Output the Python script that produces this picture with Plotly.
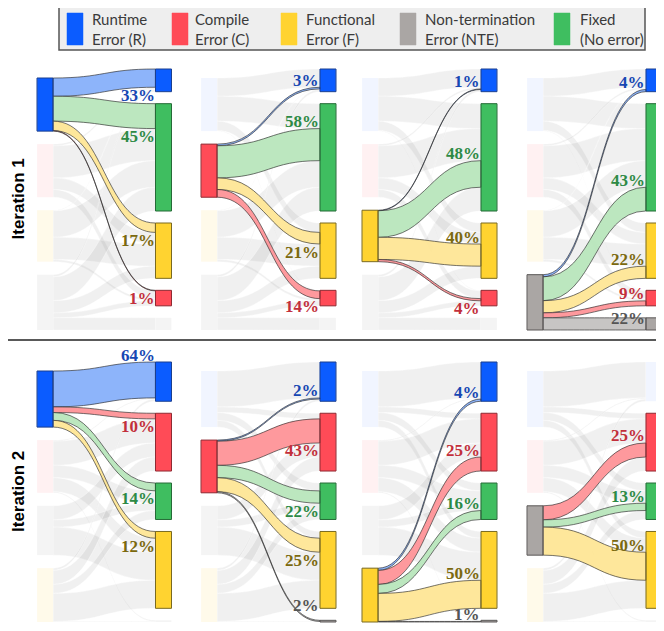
import plotly.graph_objects as go

W, H = 664, 631
OFF = 8  # page body margin: screen px -> figure px


def fx(x):
    return (x - OFF) / W


def fy(y):
    return 1 - (y - OFF) / H


# ---------------- data ----------------
legend_keys = ["R", "C", "F", "NTE", "Fixed"]
legend_labels = ["Runtime<br>Error (R)", "Compile<br>Error (C)", "Functional<br>Error (F)",
                 "Non-termination<br>Error (NTE)", "Fixed<br>(No error)"]
row_titles = ["Iteration 1", "Iteration 2"]
panel_sources = ["R", "C", "F", "NTE"]          # highlighted source in each column

iter1_source_order = ["R", "C", "F", "NTE"]
iter1_target_order = ["R", "Fixed", "F", "C", "NTE"]
iter1_from_R = [33, 45, 17, 1, 0]
iter1_from_C = [3, 58, 21, 14, 0]
iter1_from_F = [1, 48, 40, 4, 0]
iter1_from_NTE = [4, 43, 22, 9, 22]

iter2_source_order = ["R", "C", "NTE", "F"]
iter2_target_order = ["R", "C", "Fixed", "F", "NTE"]
iter2_from_R = [64, 10, 14, 12, 0]
iter2_from_C = [2, 43, 22, 25, 2]
iter2_from_NTE = [0, 25, 13, 50, 0]
iter2_from_F = [4, 25, 16, 50, 1]

rows = [
    (iter1_source_order, iter1_target_order,
     {"R": iter1_from_R, "C": iter1_from_C, "F": iter1_from_F, "NTE": iter1_from_NTE}),
    (iter2_source_order, iter2_target_order,
     {"R": iter2_from_R, "C": iter2_from_C, "NTE": iter2_from_NTE, "F": iter2_from_F}),
]

# label placement (style), per target order:
# 'a' above band end, 'A' further above, 'b' below band end, 't' on band top edge
label_side = [
    {"R": "bbbbb", "C": "aabbb", "F": "aaabb", "NTE": "aaaat"},
    {"R": "abbbb", "C": "abbbA", "F": "aaaaa", "NTE": "aaaaa"},
]

# ---------------- style ----------------
node_color = {"R": "#0b5cff", "C": "#ff4b57", "F": "#ffd330", "NTE": "#aaa6a4", "Fixed": "#3fbe60"}
node_faded = {"R": "#f1f5ff", "C": "#fff1f2", "F": "#fffaea", "NTE": "#f4f4f4", "Fixed": "#eef9f0"}
node_edge = {"R": "#1b3f8f", "C": "#8f2a32", "F": "#7a6a20", "NTE": "#5a5756", "Fixed": "#256b37"}
link_color = {"R": "rgba(135,176,250,0.95)", "C": "rgba(254,148,152,0.95)", "F": "rgba(254,230,150,0.95)",
              "NTE": "rgba(196,194,193,0.95)", "Fixed": "rgba(184,230,188,0.95)"}
label_color = {"R": "#1747b3", "C": "#c22f3b", "F": "#7b690f", "NTE": "#555555", "Fixed": "#2d8a45"}
faded_link = "rgba(120,120,120,0.11)"

col_left_cx = [45, 209, 370, 535]
col_right_cx = [163.5, 328, 489, 654]
row_top = [69, 362]
row_bot = [330, 622]
pad = 12
left_gap = 13
thickness = 16

fig = go.Figure()
annotations = []
shapes = []
outline_shapes = []

for r, (src_order, tgt_order, flows) in enumerate(rows):
    top, bot = row_top[r], row_bot[r]
    Hp = bot - top
    out_sum = [sum(flows[s]) for s in src_order]
    in_sum = [sum(flows[s][j] for s in src_order) for j in range(len(tgt_order))]
    ky = min((Hp - (len(tgt_order) - 1) * pad) / sum(in_sum),
             (Hp - (len(src_order) - 1) * pad) / sum(out_sum))
    tgt_top = []
    y = 0
    for v in in_sum:
        tgt_top.append(y)
        y += v * ky + pad
    src_top = [0] * len(src_order)
    y = Hp
    for i in reversed(range(len(src_order))):
        h = out_sum[i] * ky
        src_top[i] = y - h
        y -= h + left_gap

    for c, hl in enumerate(panel_sources):
        lx, rx = col_left_cx[c], col_right_cx[c]
        dom = dict(x=[fx(lx), fx(rx)], y=[fy(bot), fy(top)])
        ns, nt = len(src_order), len(tgt_order)
        hi = src_order.index(hl)

        # ---- base trace: every node and every flow ----
        xs = [0.001] * ns + [0.999] * nt
        ys = [(src_top[i] + out_sum[i] * ky / 2) / Hp for i in range(ns)] + \
             [(tgt_top[j] + in_sum[j] * ky / 2) / Hp for j in range(nt)]
        colors = [node_color[s] if s == hl else node_faded[s] for s in src_order] + \
                 [node_color[t] if flows[hl][j] > 0 else node_faded[t] for j, t in enumerate(tgt_order)]
        L_s, L_t, L_v, L_c = [], [], [], []
        for i, s in enumerate(src_order):
            for j, v in enumerate(flows[s]):
                if v <= 0:
                    continue
                L_s.append(i)
                L_t.append(ns + j)
                L_v.append(v)
                L_c.append("rgba(0,0,0,0)" if s == hl else faded_link)
        fig.add_trace(go.Sankey(
            domain=dom, arrangement="fixed", hoverinfo="skip",
            node=dict(label=[""] * (ns + nt), x=xs, y=ys, pad=pad, thickness=thickness,
                      color=colors, line=dict(color="rgba(0,0,0,0)", width=0), hoverinfo="skip"),
            link=dict(source=L_s, target=L_t, value=L_v, color=L_c,
                      line=dict(color="rgba(255,255,255,0.7)", width=0.5), hoverinfo="skip"),
        ))

        # ---- highlight trace: flows of the highlighted source, outlined ----
        # an off-canvas balancing flow keeps the same value->pixel scale as the base trace
        S = out_sum[hi]
        hj = [j for j in range(nt) if flows[hl][j] > 0]
        balance = Hp / ky - S
        bx, by, bs, bt, bv, bc = [0.001], [(src_top[hi] + S * ky / 2) / Hp], [], [], [], []
        for k, j in enumerate(hj):
            before = sum(flows[src_order[q]][j] for q in range(hi))
            b_top = tgt_top[j] + before * ky
            bx.append(0.999)
            by.append((b_top + flows[hl][j] * ky / 2) / Hp)
            bs.append(0)
            bt.append(k + 1)
            bv.append(flows[hl][j])
            bc.append(link_color[tgt_order[j]])
        nb = len(bx)
        bx += [0.001, 0.999]
        by += [6.0, 6.0]
        bs.append(nb)
        bt.append(nb + 1)
        bv.append(balance)
        bc.append("rgba(0,0,0,0)")
        fig.add_trace(go.Sankey(
            domain=dom, arrangement="fixed", hoverinfo="skip",
            node=dict(label=[""] * len(bx), x=bx, y=by, pad=0, thickness=thickness,
                      color="rgba(0,0,0,0)", line=dict(color="rgba(0,0,0,0)", width=0), hoverinfo="skip"),
            link=dict(source=bs, target=bt, value=bv, color=bc,
                      line=dict(color="rgba(40,40,40,0.8)", width=0.8), hoverinfo="skip"),
        ))

        # ---- outlines of highlighted nodes ----
        outline_shapes.append(dict(
            type="rect", xref="paper", yref="paper",
            x0=fx(lx - thickness / 2), x1=fx(lx + thickness / 2),
            y0=fy(top + src_top[hi] + S * ky), y1=fy(top + src_top[hi]),
            line=dict(color=node_edge[hl], width=1), fillcolor="rgba(0,0,0,0)"))
        for j in hj:
            t = tgt_order[j]
            outline_shapes.append(dict(
                type="rect", xref="paper", yref="paper",
                x0=fx(rx - thickness / 2), x1=fx(rx + thickness / 2),
                y0=fy(top + tgt_top[j] + in_sum[j] * ky), y1=fy(top + tgt_top[j]),
                line=dict(color=node_edge[t], width=1), fillcolor="rgba(0,0,0,0)"))

        # ---- percentage labels ----
        for j in hj:
            t = tgt_order[j]
            v = flows[hl][j]
            before = sum(flows[src_order[q]][j] for q in range(hi))
            b_top = top + tgt_top[j] + before * ky
            b_bot = b_top + v * ky
            side = label_side[r][hl][j]
            if side == "a":
                yc = b_top - 7
            elif side == "A":
                yc = b_top - 15
            elif side == "t":
                yc = b_top + 1
            else:
                yc = b_bot + 8
            annotations.append(dict(
                x=fx(rx - thickness / 2 + 1), y=fy(yc), xref="paper", yref="paper",
                xanchor="right", yanchor="middle", showarrow=False,
                text=f"<b>{v}%</b>",
                font=dict(family="Liberation Serif", size=17, color=label_color[t])))

    annotations.append(dict(
        x=fx(18), y=fy((top + bot) / 2), xref="paper", yref="paper",
        xanchor="center", yanchor="middle", showarrow=False, textangle=-90,
        text=f"<b>{row_titles[r]}</b>",
        font=dict(family="Liberation Sans", size=17, color="#000000")))

shapes.extend(outline_shapes)

# separator between the two iterations
shapes.append(dict(type="line", xref="paper", yref="paper", x0=0, x1=1,
                   y0=fy(340), y1=fy(340), line=dict(color="#222222", width=1.5)))

# legend box
shapes.append(dict(type="rect", xref="paper", yref="paper", x0=fx(59), x1=fx(645),
                   y0=fy(50), y1=fy(6), fillcolor="#eeeeee",
                   line=dict(color="#555555", width=1.5), layer="below"))
swatch_x = [67, 172, 281, 400, 554]
text_x = [90, 193, 304, 423, 578]
for k, key in enumerate(legend_keys):
    shapes.append(dict(type="rect", xref="paper", yref="paper",
                       x0=fx(swatch_x[k]), x1=fx(swatch_x[k] + 16),
                       y0=fy(45), y1=fy(13), fillcolor=node_color[key],
                       line=dict(color=node_color[key], width=0.5)))
    annotations.append(dict(
        x=fx(text_x[k]), y=fy(29), xref="paper", yref="paper",
        xanchor="left", yanchor="middle", align="left", showarrow=False,
        text=legend_labels[k],
        font=dict(family="Lato", size=15, color="#3a3a3a")))

fig.update_layout(
    width=W, height=H,
    margin=dict(l=0, r=0, t=0, b=0),
    paper_bgcolor="white", plot_bgcolor="white",
    annotations=annotations, shapes=shapes,
    showlegend=False,
)

fig.write_html("out.html")
